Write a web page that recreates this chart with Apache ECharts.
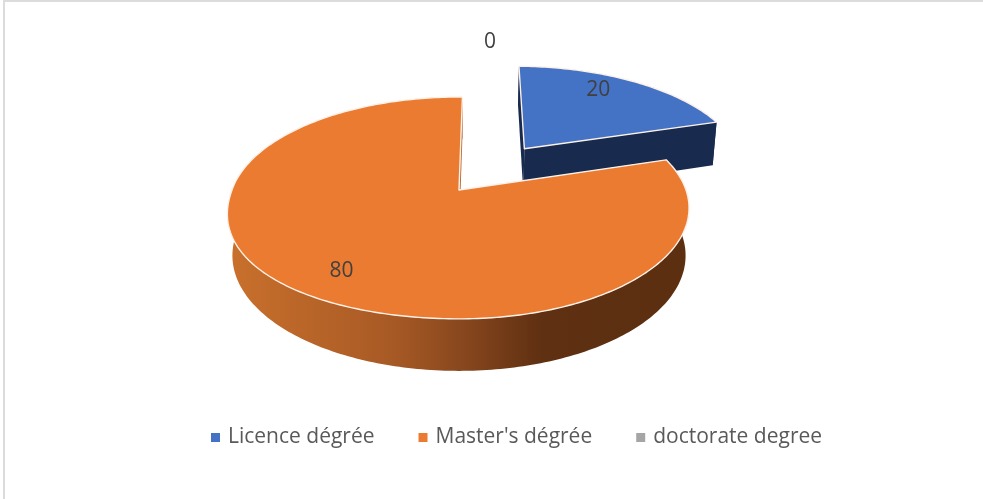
<!DOCTYPE html>
<html>
<head>
<meta charset="utf-8">
<style>html,body{margin:0;padding:0;background:#fff}#c{width:983px;height:499px}</style>
<script src="https://cdn.jsdelivr.net/npm/echarts@6/dist/echarts.min.js"></script>
</head>
<body>
<div id="c"></div>
<script>
const categories = ["Licence dégrée", "Master's dégrée", "doctorate degree"];
const values = [20, 80, 0];
const topColors = ['#4472c4', '#ea7b30', '#a5a5a5'];
const wallColors = ['#182b4f', '#7a3f18', '#666666'];
const explode = [0.51, 0, 0.51];
const labelDisc = [[0.7225, 1.092], [-0.461, -0.672], [0.176, 1.76]];

// perspective view of the disc
const view = { x0: 459, y0: 190, a: 227, b: 108, k: 0.162, rot: 1.0, sx: 0.985, dA: 46.8, dB: -5.2, bulge: 20 };
const total = values.reduce((s, v) => s + v, 0);
const starts = values.map((_, i) => values.slice(0, i).reduce((s, v) => s + v, 0) / total * 360);

function project(u, v, bottom) {
  const w = 1 + view.k * v;
  let x = view.a * u / w;
  let y = view.y0 - view.b * v / w;
  if (bottom) { x *= view.sx; y += view.dA + view.dB * v; }
  return [view.x0 + x, y];
}
// the front-left of the top rim leans slightly outward in this camera view
function projectRim(u, v) {
  const p = project(u, v);
  p[0] -= view.bulge * Math.max(0, -u) * Math.pow(Math.max(0, -v), 1.5);
  return p;
}
function renderSlice(idx) {
  return function (params, api) {
    const val = api.value(0);
    const a0 = starts[idx] + view.rot;
    const a1 = a0 + val / total * 360;
    const mid = (a0 + a1) / 2 * Math.PI / 180;
    const ex = explode[idx] * Math.sin(mid), ey = explode[idx] * Math.cos(mid);
    const children = [];
    const lab = labelDisc[idx];
    const lp = project(lab[0], lab[1]);
    if (val > 0) {
      const topRim = [], botRim = [];
      const n = Math.max(8, Math.round(a1 - a0));
      for (let i = 0; i <= n; i++) {
        const t = (a0 + (a1 - a0) * i / n) * Math.PI / 180;
        topRim.push(projectRim(ex + Math.sin(t), ey + Math.cos(t)));
        botRim.push(project(ex + Math.sin(t), ey + Math.cos(t), true));
      }
      const apex = project(ex, ey), apexB = project(ex, ey, true);
      const fill = idx === 1
        ? { type: 'linear', global: true, x: 229, y: 0, x2: 689, y2: 0, colorStops: [
            { offset: 0, color: '#c9702c' }, { offset: 0.35, color: '#a85a25' },
            { offset: 0.5, color: '#8a481e' }, { offset: 0.68, color: '#5f3012' },
            { offset: 1, color: '#5c2f11' }] }
        : wallColors[idx];
      const poly = (pts, style) => children.push({ type: 'polygon', shape: { points: pts }, style });
      poly(topRim.concat(botRim.slice().reverse()), { fill });
      poly([topRim[0], apex, apexB, botRim[0]], { fill: idx === 1 ? '#b5642a' : wallColors[idx] });
      poly([topRim[n], apex, apexB, botRim[n]], { fill: idx === 1 ? '#b5642a' : wallColors[idx] });
      poly([apex].concat(topRim), { fill: topColors[idx], stroke: '#fdf1e8', lineWidth: 1.4, lineJoin: 'round' });
    }
    children.push({ type: 'text', z2: 10, style: {
      text: String(val), x: lp[0], y: lp[1], align: 'center', verticalAlign: 'middle',
      fill: '#404040', font: '21px "Open Sans"' } });
    return { type: 'group', children };
  };
}

const chart = echarts.init(document.getElementById('c'), null, { renderer: 'canvas' });
chart.setOption({
  animation: false,
  backgroundColor: '#fff',
  graphic: [
    { type: 'line', shape: { x1: 3, y1: 1, x2: 983, y2: 1 }, style: { stroke: '#dcdcdc', lineWidth: 2 } },
    { type: 'line', shape: { x1: 4, y1: 0, x2: 4, y2: 499 }, style: { stroke: '#dcdcdc', lineWidth: 2 } }
  ],
  legend: {
    data: categories, left: 211, top: 427, padding: 0, icon: 'rect', itemWidth: 9, itemHeight: 9, itemGap: 44,
    textStyle: { color: '#595959', fontSize: 21, fontFamily: 'Open Sans', padding: [0, 0, 0, 3] }
  },
  series: categories.map((name, i) => ({
    type: 'custom', name, coordinateSystem: 'none', silent: true,
    itemStyle: { color: topColors[i] },
    renderItem: renderSlice(i),
    data: [[values[i]]]
  }))
});
</script>
</body>
</html>
